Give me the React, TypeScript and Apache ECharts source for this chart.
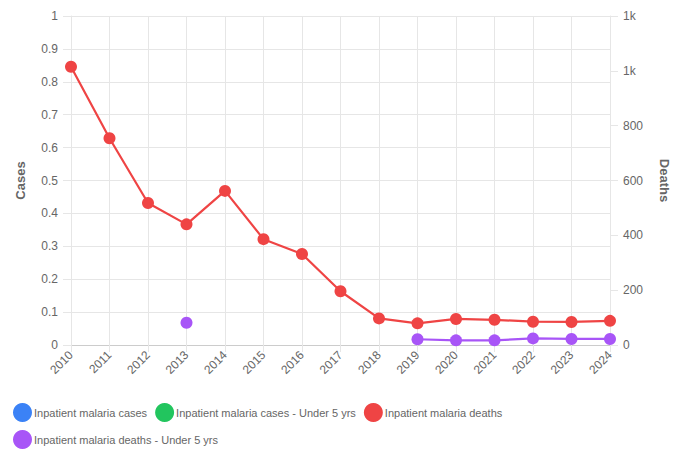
import React, { useEffect, useRef } from "react";
import * as echarts from "echarts";

const years = ["2010", "2011", "2012", "2013", "2014", "2015", "2016", "2017", "2018", "2019", "2020", "2021", "2022", "2023", "2024"];
const casesAll: (number | null)[] = years.map(() => null);
const casesUnder5: (number | null)[] = years.map(() => null);
const deathsAll: (number | null)[] = [1015, 754, 518, 440, 562, 386, 332, 196, 97, 79, 95, 92, 85, 84, 88];
const deathsUnder5: (number | null)[] = [null, null, null, 81, null, null, null, null, null, 21, 17, 17, 24, 22, 22];

const seriesNames = [
  "Inpatient malaria cases",
  "Inpatient malaria cases - Under 5 yrs",
  "Inpatient malaria deaths",
  "Inpatient malaria deaths - Under 5 yrs",
];
const colors = ["#3b82f6", "#22c55e", "#ef4444", "#a855f7"];

const FONT = "'Liberation Sans', Arial, Helvetica, sans-serif";
const TXT = "#666666";
const GRID = "#e6e6e6";

export default function App() {
  const ref = useRef<HTMLDivElement>(null);
  useEffect(() => {
    if (!ref.current) return;
    const chart = echarts.init(ref.current, undefined, { renderer: "svg" });
    const mk = (i: number, data: (number | null)[], yIdx: number) => ({
      name: seriesNames[i],
      type: "line",
      yAxisIndex: yIdx,
      data,
      symbol: "circle",
      symbolSize: 12,
      showSymbol: true,
      connectNulls: false,
      lineStyle: { color: colors[i], width: 2.2 },
      itemStyle: { color: colors[i] },
    });
    chart.setOption({
      animation: false,
      backgroundColor: "#ffffff",
      textStyle: { fontFamily: FONT },
      color: colors,
      grid: { left: 71, right: 74, top: 16, bottom: 104, containLabel: false },
      legend: {
        left: 13,
        top: 403,
        width: 590,
        icon: "circle",
        itemWidth: 19,
        itemHeight: 19,
        itemGap: 8,
        padding: [0, 0, 0, 0],
        textStyle: { color: TXT, fontSize: 11, fontFamily: FONT, padding: [0, 0, 0, -3] },
        data: seriesNames,
      },
      xAxis: {
        type: "category",
        data: years,
        boundaryGap: false,
        axisLine: { show: true, lineStyle: { color: "#cccccc" } },
        axisTick: { show: true, length: 7, lineStyle: { color: GRID } },
        splitLine: { show: true, lineStyle: { color: GRID } },
        axisLabel: { color: TXT, fontSize: 12, rotate: 45, margin: 8, fontFamily: FONT },
      },
      yAxis: [
        {
          type: "value",
          min: 0,
          max: 1,
          interval: 0.1,
          name: "Cases",
          nameLocation: "middle",
          nameGap: 44,
          nameTextStyle: { color: TXT, fontSize: 13, fontWeight: "bold", fontFamily: FONT },
          axisLine: { show: true, lineStyle: { color: GRID } },
          axisTick: { show: true, length: 8, lineStyle: { color: GRID } },
          splitLine: { show: true, lineStyle: { color: GRID } },
          axisLabel: { color: TXT, fontSize: 12, margin: 13, fontFamily: FONT },
        },
        {
          type: "value",
          position: "right",
          min: 0,
          max: 1200,
          interval: 200,
          name: "Deaths",
          nameLocation: "middle",
          nameGap: 48,
          nameRotate: -90,
          nameTextStyle: { color: TXT, fontSize: 13, fontWeight: "bold", fontFamily: FONT },
          axisLine: { show: true, lineStyle: { color: GRID } },
          axisTick: { show: true, length: 8, lineStyle: { color: GRID } },
          splitLine: { show: false },
          axisLabel: {
            color: TXT,
            fontSize: 12,
            margin: 13,
            fontFamily: FONT,
            formatter: (v: number) => (v >= 1000 ? Math.round(v / 1000) + "k" : String(v)),
          },
        },
      ],
      series: [
        mk(0, casesAll, 0),
        mk(1, casesUnder5, 0),
        mk(2, deathsAll, 1),
        mk(3, deathsUnder5, 1),
      ],
    });
    return () => chart.dispose();
  }, []);
  return (
    <div
      ref={ref}
      style={{ position: "absolute", left: 0, top: 0, width: 684, height: 449, background: "#fff" }}
    />
  );
}
